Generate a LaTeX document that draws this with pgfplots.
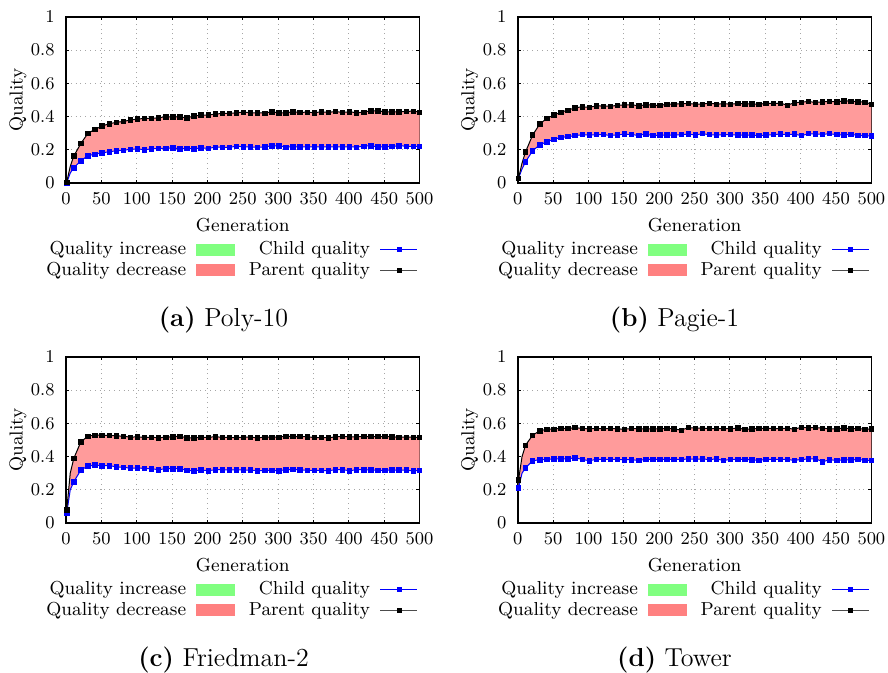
\documentclass[border=0pt]{standalone}
\usepackage{pgfplots}
\pgfplotsset{compat=1.18}
\usepackage{pgfplotstable}
\usepgfplotslibrary{fillbetween}
\definecolor{incgreen}{RGB}{128,255,128}
\definecolor{decred}{RGB}{255,128,128}
\definecolor{decfill}{RGB}{255,155,155}

\pgfplotstableread{
g p c
1 0.005 0.000
6 0.100 0.060
11 0.162 0.092
21 0.238 0.134
31 0.299 0.164
41 0.323 0.174
51 0.343 0.182
61 0.357 0.188
71 0.365 0.194
81 0.371 0.198
91 0.379 0.202
101 0.385 0.206
111 0.389 0.200
121 0.389 0.206
131 0.393 0.208
141 0.399 0.208
151 0.399 0.212
161 0.397 0.206
171 0.393 0.208
181 0.403 0.206
191 0.409 0.212
201 0.409 0.208
211 0.415 0.216
221 0.419 0.216
231 0.419 0.214
241 0.423 0.222
251 0.427 0.218
261 0.423 0.218
271 0.423 0.214
281 0.421 0.218
291 0.429 0.224
301 0.423 0.224
311 0.423 0.216
321 0.429 0.218
331 0.425 0.218
341 0.427 0.218
351 0.423 0.218
361 0.429 0.218
371 0.425 0.218
381 0.431 0.218
391 0.425 0.218
401 0.429 0.218
411 0.423 0.216
421 0.427 0.222
431 0.435 0.224
441 0.435 0.218
451 0.429 0.218
461 0.429 0.220
471 0.429 0.224
481 0.431 0.222
491 0.433 0.220
500 0.427 0.222
}\datA

\pgfplotstableread{
g p c
1 0.028 0.028
6 0.120 0.085
11 0.188 0.128
21 0.289 0.194
31 0.355 0.230
41 0.389 0.248
51 0.409 0.263
61 0.427 0.275
71 0.439 0.279
81 0.453 0.285
91 0.459 0.291
101 0.455 0.289
111 0.465 0.291
121 0.463 0.291
131 0.463 0.287
141 0.467 0.289
151 0.471 0.295
161 0.471 0.291
171 0.465 0.287
181 0.471 0.295
191 0.469 0.285
201 0.467 0.289
211 0.475 0.289
221 0.475 0.289
231 0.477 0.291
241 0.479 0.295
251 0.475 0.289
261 0.475 0.297
271 0.481 0.291
281 0.475 0.289
291 0.477 0.291
301 0.475 0.291
311 0.479 0.289
321 0.477 0.289
331 0.477 0.289
341 0.473 0.285
351 0.481 0.289
361 0.479 0.291
371 0.481 0.295
381 0.469 0.291
391 0.483 0.295
401 0.487 0.285
411 0.491 0.297
421 0.485 0.295
431 0.489 0.293
441 0.491 0.297
451 0.489 0.291
461 0.495 0.289
471 0.493 0.293
481 0.489 0.287
491 0.487 0.285
500 0.475 0.283
}\datB

\pgfplotstableread{
g p c
1 0.078 0.058
6 0.300 0.200
11 0.389 0.248
21 0.489 0.319
31 0.523 0.343
41 0.529 0.349
51 0.529 0.345
61 0.527 0.345
71 0.525 0.339
81 0.523 0.335
91 0.517 0.331
101 0.519 0.331
111 0.515 0.329
121 0.517 0.327
131 0.513 0.321
141 0.517 0.327
151 0.519 0.327
161 0.523 0.327
171 0.513 0.317
181 0.513 0.315
191 0.515 0.319
201 0.517 0.315
211 0.519 0.321
221 0.517 0.321
231 0.515 0.319
241 0.515 0.321
251 0.517 0.319
261 0.517 0.319
271 0.513 0.315
281 0.517 0.317
291 0.517 0.317
301 0.517 0.315
311 0.523 0.321
321 0.521 0.323
331 0.521 0.321
341 0.519 0.317
351 0.515 0.317
361 0.515 0.317
371 0.513 0.315
381 0.519 0.321
391 0.521 0.321
401 0.519 0.315
411 0.519 0.321
421 0.521 0.321
431 0.521 0.319
441 0.521 0.317
451 0.521 0.317
461 0.519 0.319
471 0.517 0.319
481 0.517 0.319
491 0.517 0.313
500 0.515 0.317
}\datC

\pgfplotstableread{
g p c
1 0.259 0.212
6 0.400 0.300
11 0.469 0.333
21 0.529 0.375
31 0.555 0.381
41 0.565 0.383
51 0.565 0.387
61 0.571 0.387
71 0.569 0.387
81 0.575 0.393
91 0.569 0.383
101 0.567 0.375
111 0.569 0.383
121 0.569 0.383
131 0.569 0.383
141 0.567 0.383
151 0.565 0.381
161 0.569 0.381
171 0.567 0.377
181 0.567 0.383
191 0.567 0.383
201 0.567 0.383
211 0.569 0.383
221 0.567 0.383
231 0.559 0.383
241 0.575 0.385
251 0.571 0.385
261 0.571 0.385
271 0.569 0.383
281 0.569 0.385
291 0.569 0.377
301 0.567 0.383
311 0.573 0.383
321 0.563 0.383
331 0.567 0.381
341 0.569 0.377
351 0.571 0.383
361 0.569 0.383
371 0.569 0.383
381 0.571 0.383
391 0.565 0.377
401 0.577 0.383
411 0.573 0.385
421 0.575 0.387
431 0.571 0.369
441 0.567 0.381
451 0.567 0.377
461 0.573 0.381
471 0.567 0.379
481 0.569 0.383
491 0.565 0.377
500 0.567 0.377
}\datD

\newcommand{\lblfont}{\fontsize{9.4}{11}\selectfont}

\pgfplotsset{
  qaxis/.style={
    scale only axis, width=176.8pt, height=83pt,
    xmin=0, xmax=500, ymin=0, ymax=1,
    xtick={0,50,...,500}, ytick={0,0.2,0.4,0.6,0.8,1},
    grid=major, grid style={dotted, gray!70, line width=0.5pt},
    axis line style={line width=0.8pt},
    tick align=inside, major tick length=1.6pt,
    tick style={black, line width=0.5pt},
    tick label style={font=\lblfont},
    xticklabel style={inner sep=0pt, yshift=-5pt},
    yticklabel style={inner sep=0pt, xshift=-5.5pt},
    label style={font=\lblfont},
    xlabel={Generation}, ylabel={Quality},
    xlabel style={at={(axis description cs:0.5,-0.21)}, anchor=north, inner sep=0pt},
    ylabel style={at={(axis description cs:-0.136,0.5)}, anchor=center, inner sep=0pt},
    legend columns=2, legend plot pos=right, legend cell align=right,
    legend style={draw=none, fill=none, at={(0.47,-0.35)}, anchor=north,
      font=\lblfont, inner sep=0pt, row sep=2.2pt, nodes={inner sep=0pt},
      /tikz/every odd column/.append style={column sep=5pt},
      /tikz/every even column/.append style={column sep=7pt}},
  }
}

\newcommand{\qplots}[1]{%
  \addplot[name path=P, draw=none, forget plot] table[x=g,y=p]{#1};
  \addplot[name path=C, draw=none, forget plot] table[x=g,y=c]{#1};
  \addplot[fill=decfill, draw=none, forget plot] fill between[of=P and C];
  \addplot[blue, line width=0.5pt, forget plot] table[x=g,y=c]{#1};
  \addplot[black, line width=0.5pt, forget plot] table[x=g,y=p]{#1};
  \addplot[only marks, mark=square*, mark size=1.1pt, blue, forget plot,
    skip coords between index={1}{2}, skip coords between index={52}{53}] table[x=g,y=c]{#1};
  \addplot[only marks, mark=square*, mark size=1.1pt, black, forget plot,
    skip coords between index={1}{2}, skip coords between index={52}{53}] table[x=g,y=p]{#1};
  \addlegendimage{legend image code/.code={\fill[incgreen] (0pt,-2.7pt) rectangle (19pt,2.7pt);}}
  \addlegendentry{Quality increase}
  \addlegendimage{legend image code/.code={\draw[blue, line width=0.5pt] (0pt,0pt) -- (18.5pt,0pt); \fill[blue] (8.25pt,-1pt) rectangle (10.25pt,1pt);}}
  \addlegendentry{Child quality}
  \addlegendimage{legend image code/.code={\fill[decred] (0pt,-2.7pt) rectangle (19pt,2.7pt);}}
  \addlegendentry{Quality decrease}
  \addlegendimage{legend image code/.code={\draw[black!70, line width=0.5pt] (0pt,0pt) -- (18.5pt,0pt); \fill[black] (8.25pt,-1pt) rectangle (10.25pt,1pt);}}
  \addlegendentry{Parent quality}
}

\begin{document}
\begin{tikzpicture}
\begin{axis}[qaxis, at={(33pt,245pt)}, anchor=south west]
\qplots{\datA}
\end{axis}
\begin{axis}[qaxis, at={(258.9pt,245pt)}, anchor=south west]
\qplots{\datB}
\end{axis}
\begin{axis}[qaxis, at={(33pt,75pt)}, anchor=south west]
\qplots{\datC}
\end{axis}
\begin{axis}[qaxis, at={(258.9pt,75pt)}, anchor=south west]
\qplots{\datD}
\end{axis}

\node[anchor=base, font=\fontsize{13}{15}\selectfont] at (111.75pt,173.2pt) {\textbf{(a)} Poly-10};
\node[anchor=base, font=\fontsize{13}{15}\selectfont] at (337.25pt,173.2pt) {\textbf{(b)} Pagie-1};
\node[anchor=base, font=\fontsize{13}{15}\selectfont] at (111.75pt,3.2pt) {\textbf{(c)} Friedman-2};
\node[anchor=base, font=\fontsize{13}{15}\selectfont] at (337.25pt,3.2pt) {\textbf{(d)} Tower};
\pgfresetboundingbox
\path (0,0) rectangle (444pt,336.5pt);
\end{tikzpicture}
\end{document}
